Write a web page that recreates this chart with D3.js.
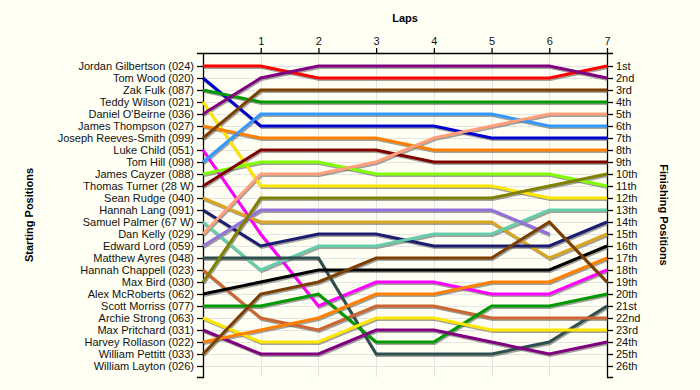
<!DOCTYPE html>
<html>
<head>
<meta charset="utf-8">
<script src="https://cdn.jsdelivr.net/npm/d3@7"></script>
<style>
  html, body { margin: 0; padding: 0; background: #FFFFF4; }
  svg { display: block; }
  text { font-family: "Liberation Sans", Arial, sans-serif; }
</style>
</head>
<body>
<svg id="chart" width="700" height="390"></svg>
<script>
// ---- data ----
const drivers = [
  "Jordan Gilbertson (024)", "Tom Wood (020)", "Zak Fulk (087)", "Teddy Wilson (021)",
  "Daniel O'Beirne (036)", "James Thompson (027)", "Joseph Reeves-Smith (099)", "Luke Child (051)",
  "Tom Hill (098)", "James Cayzer (088)", "Thomas Turner (28 W)", "Sean Rudge (040)",
  "Hannah Lang (091)", "Samuel Palmer (67 W)", "Dan Kelly (029)", "Edward Lord (059)",
  "Matthew Ayres (048)", "Hannah Chappell (023)", "Max Bird (030)", "Alex McRoberts (062)",
  "Scott Morriss (077)", "Archie Strong (063)", "Max Pritchard (031)", "Harvey Rollason (022)",
  "William Pettitt (033)", "William Layton (026)"
];
// positions at lap 0 (start) .. lap 7 (finish); one array per driver, same order as drivers
const positions = [
  [1, 1, 2, 2, 2, 2, 2, 1],
  [2, 6, 6, 6, 6, 7, 7, 7],
  [3, 4, 4, 4, 4, 4, 4, 4],
  [4, 11, 11, 11, 11, 11, 12, 12],
  [5, 2, 1, 1, 1, 1, 1, 2],
  [6, 7, 7, 7, 8, 8, 8, 8],
  [7, 3, 3, 3, 3, 3, 3, 3],
  [8, 15, 21, 19, 19, 20, 20, 18],
  [9, 5, 5, 5, 5, 5, 6, 6],
  [10, 9, 9, 10, 10, 10, 10, 11],
  [11, 8, 8, 8, 9, 9, 9, 9],
  [12, 14, 14, 14, 14, 14, 17, 15],
  [13, 16, 15, 15, 16, 16, 16, 14],
  [14, 18, 16, 16, 15, 15, 13, 13],
  [15, 10, 10, 9, 7, 6, 5, 5],
  [16, 13, 13, 13, 13, 13, 15],
  [17, 17, 17, 25, 25, 25, 24, 21],
  [18, 22, 23, 21, 21, 22, 22, 22],
  [19, 12, 12, 12, 12, 12, 11, 10],
  [20, 19, 18, 18, 18, 18, 18, 16],
  [21, 21, 20, 24, 24, 21, 21, 20],
  [22, 24, 24, 22, 22, 23, 23, 23],
  [23, 25, 25, 23, 23, 24, 25, 24],
  [24, 23, 22, 20, 20, 19, 19, 17],
  [25, 20, 19, 17, 17, 17, 14, 19],
  []
];
const lapLabels = ["1", "2", "3", "4", "5", "6", "7"];
const finishLabels = ["1st","2nd","3rd","4th","5th","6th","7th","8th","9th","10th","11th","12th",
  "13th","14th","15th","16th","17th","18th","19th","20th","21st","22nd","23rd","24th","25th","26th"];
const colors = [
  "#FF0000", "#0000CC", "#009900", "#FFE600", "#800080", "#FF8000", "#7B3F00", "#FF00FF",
  "#3399FF", "#80FF00", "#800000", "#DAA520", "#1C1C70", "#66CDAA", "#FFA07A", "#9370DB",
  "#2F4F4F", "#CC6633", "#808000", "#000000", "#009900", "#FFE600", "#800080", "#FF8000",
  "#7B3F00", "#888888"
];

// ---- layout ----
const svg = d3.select("#chart");
const mLeft = 203, mRight = 607, mTop = 53, mBottom = 377;
const nLaps = lapLabels.length;

const x = d3.scaleLinear().domain([0, nLaps]).range([mLeft, mRight]);
const y = d3.scaleLinear().domain([-1/12, drivers.length + 11/12]).range([mTop, mBottom]);

// grid
const grid = svg.append("g").attr("stroke", "#e4e4e4").attr("stroke-width", 1);
grid.selectAll("line.h").data(d3.range(1, drivers.length + 1)).join("line")
  .attr("class", "h")
  .attr("x1", mLeft).attr("x2", mRight)
  .attr("y1", d => Math.round(y(d)) + 0.5).attr("y2", d => Math.round(y(d)) + 0.5);
grid.selectAll("line.v").data(d3.range(1, nLaps)).join("line")
  .attr("class", "v")
  .attr("y1", mTop).attr("y2", mBottom)
  .attr("x1", d => Math.round(x(d)) + 0.5).attr("x2", d => Math.round(x(d)) + 0.5);

// axes
const leftAxis = d3.axisLeft(y)
  .tickValues(d3.range(1, drivers.length + 1))
  .tickFormat(d => drivers[d - 1])
  .tickSize(6).tickSizeOuter(6).tickPadding(3);
const rightAxis = d3.axisRight(y)
  .tickValues(d3.range(1, finishLabels.length + 1))
  .tickFormat(d => finishLabels[d - 1])
  .tickSize(6).tickSizeOuter(6).tickPadding(3);
const topAxis = d3.axisTop(x)
  .tickValues(d3.range(1, nLaps + 1))
  .tickFormat(d => lapLabels[d - 1])
  .tickSize(5).tickSizeOuter(0).tickPadding(3);

function styleAxis(g) {
  g.selectAll("path, line").attr("stroke", "#000").attr("stroke-width", 1.3);
  g.selectAll("text").attr("fill", "#111").style("font-size", "11px")
    .style("font-family", "'Liberation Sans', Arial, sans-serif");
}
svg.append("g").attr("transform", `translate(${mLeft},0)`).call(leftAxis).call(styleAxis);
svg.append("g").attr("transform", `translate(${mRight},0)`).call(rightAxis).call(styleAxis);
svg.append("g").attr("transform", `translate(0,${mTop})`).call(topAxis).call(styleAxis);

// lines
const line = d3.line().x((d, i) => x(i)).y(d => y(d));
const series = drivers.map((name, i) => ({ name, pos: positions[i], color: colors[i] }))
  .filter(s => s.pos.length > 1);

const shadows = svg.append("g").attr("transform", "translate(1,1.5)");
shadows.selectAll("path").data(series).join("path")
  .attr("d", d => line(d.pos)).attr("fill", "none")
  .attr("stroke", "#555").attr("stroke-opacity", 0.55).attr("stroke-width", 3)
  .attr("stroke-linejoin", "miter");

svg.append("g").selectAll("path").data(series).join("path")
  .attr("d", d => line(d.pos)).attr("fill", "none")
  .attr("stroke", d => d.color).attr("stroke-width", 3)
  .attr("stroke-linejoin", "miter");

// titles
svg.append("text").attr("x", (mLeft + mRight) / 2).attr("y", 22).attr("text-anchor", "middle")
  .style("font-size", "11px").style("font-weight", "bold").attr("fill", "#000").text("Laps");
svg.append("text").attr("transform", `translate(33,${(mTop + mBottom) / 2}) rotate(-90)`)
  .attr("text-anchor", "middle")
  .style("font-size", "11px").style("font-weight", "bold").attr("fill", "#000").text("Starting Positions");
svg.append("text").attr("transform", `translate(660,${(mTop + mBottom) / 2}) rotate(90)`)
  .attr("text-anchor", "middle")
  .style("font-size", "11px").style("font-weight", "bold").attr("fill", "#000").text("Finishing Positions");
</script>
</body>
</html>
